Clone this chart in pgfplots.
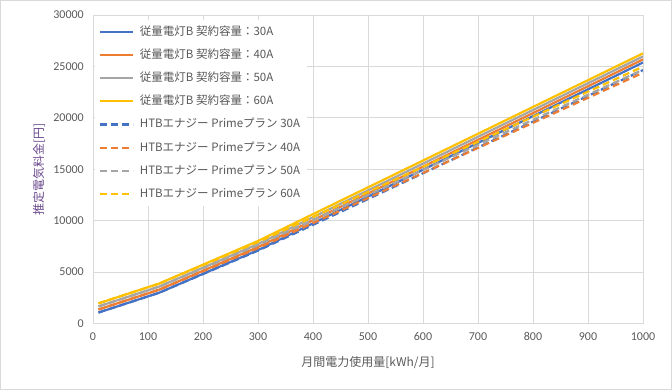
\documentclass[border=0pt]{standalone}
\usepackage{pgfplots}
\pgfplotsset{compat=1.18}
\usepackage{fontspec}
\setmainfont{Noto Sans CJK JP}
\newfontfamily\tickfont{Carlito}
\definecolor{cblue}{HTML}{4472C4}
\definecolor{corange}{HTML}{ED7D31}
\definecolor{cgray}{HTML}{A5A5A5}
\definecolor{cgold}{HTML}{FFC000}
\definecolor{gridc}{HTML}{D9D9D9}
\definecolor{textc}{HTML}{595959}
\definecolor{ylabc}{HTML}{6B4A8E}
\begin{document}
\begin{tikzpicture}
\useasboundingbox (0,0) rectangle (672bp,390bp);
\draw[color=gridc, line width=0.75bp] (0.5bp,0.5bp) rectangle (671.5bp,389.5bp);
\begin{axis}[
  at={(93bp,66.5bp)}, anchor=south west,
  width=550bp, height=308.5bp, scale only axis,
  xmin=0, xmax=1000, ymin=0, ymax=30000,
  xtick={0,100,...,1000}, ytick={0,5000,...,30000},
  grid=major, grid style={color=gridc, line width=0.75bp},
  axis line style={draw=gridc, line width=0.75bp},
  major tick length=0pt,
  scaled ticks=false,
  /pgf/number format/assume math mode=true,
  /pgf/number format/set thousands separator={},
  tick label style={font=\tickfont\fontsize{12bp}{14bp}\selectfont, text=textc},
  yticklabel style={anchor=east, inner sep=0pt, xshift=-9bp},
  xticklabel style={anchor=north, inner sep=0pt, yshift=-9bp},
  xlabel={月間電力使用量[kWh/月]},
  ylabel={推定電気料金[円]},
  xlabel style={at={(axis description cs:0.5,0)}, anchor=center, yshift=-39.5bp, font=\fontsize{12bp}{14bp}\selectfont, text=textc},
  ylabel style={at={(axis description cs:-0.0982,0.5)}, anchor=center, font=\fontsize{12bp}{14bp}\selectfont, text=ylabc},
  legend style={at={(axis description cs:0.0036,0.984)}, anchor=north west, draw=none, fill=white,
     font=\fontsize{11.5bp}{13bp}\selectfont, text=textc, row sep=12.2bp, inner xsep=4bp, inner ysep=6bp,
     nodes={inner xsep=2.5bp, inner ysep=0pt, text height=9bp, text depth=2bp},
     /tikz/every odd column/.append style={column sep=3bp}},
  legend cell align=left,
  legend image code/.code={\draw[#1] (0bp,0bp) -- (33bp,0bp);},
  every axis plot/.append style={line width=2.2bp, line join=round},
]
\addplot[color=cblue] coordinates {(10,1065.6) (120,2986.2) (300,7137) (1000,25379)};
\addlegendentry{従量電灯B 契約容量：30A}
\addplot[color=corange] coordinates {(10,1362.6) (120,3283.2) (300,7434) (1000,25676)};
\addlegendentry{従量電灯B 契約容量：40A}
\addplot[color=cgray] coordinates {(10,1659.6) (120,3580.2) (300,7731) (1000,25973)};
\addlegendentry{従量電灯B 契約容量：50A}
\addplot[color=cgold] coordinates {(10,1956.6) (120,3877.2) (300,8028) (1000,26270)};
\addlegendentry{従量電灯B 契約容量：60A}
\addplot[color=cblue, dash pattern=on 7bp off 4bp] coordinates {(10,1065.6) (120,2986.2) (300,7083) (1000,24646)};
\addlegendentry{HTBエナジー Primeプラン 30A}
\addplot[color=corange, dash pattern=on 7bp off 4bp] coordinates {(10,1362.6) (120,3283.2) (300,7326) (1000,24385)};
\addlegendentry{HTBエナジー Primeプラン 40A}
\addplot[color=cgray, dash pattern=on 7bp off 4bp] coordinates {(10,1659.6) (120,3580.2) (300,7623) (1000,24682)};
\addlegendentry{HTBエナジー Primeプラン 50A}
\addplot[color=cgold, dash pattern=on 7bp off 4bp] coordinates {(10,1956.6) (120,3877.2) (300,7920) (1000,24979)};
\addlegendentry{HTBエナジー Primeプラン 60A}
\end{axis}
\end{tikzpicture}
\end{document}
